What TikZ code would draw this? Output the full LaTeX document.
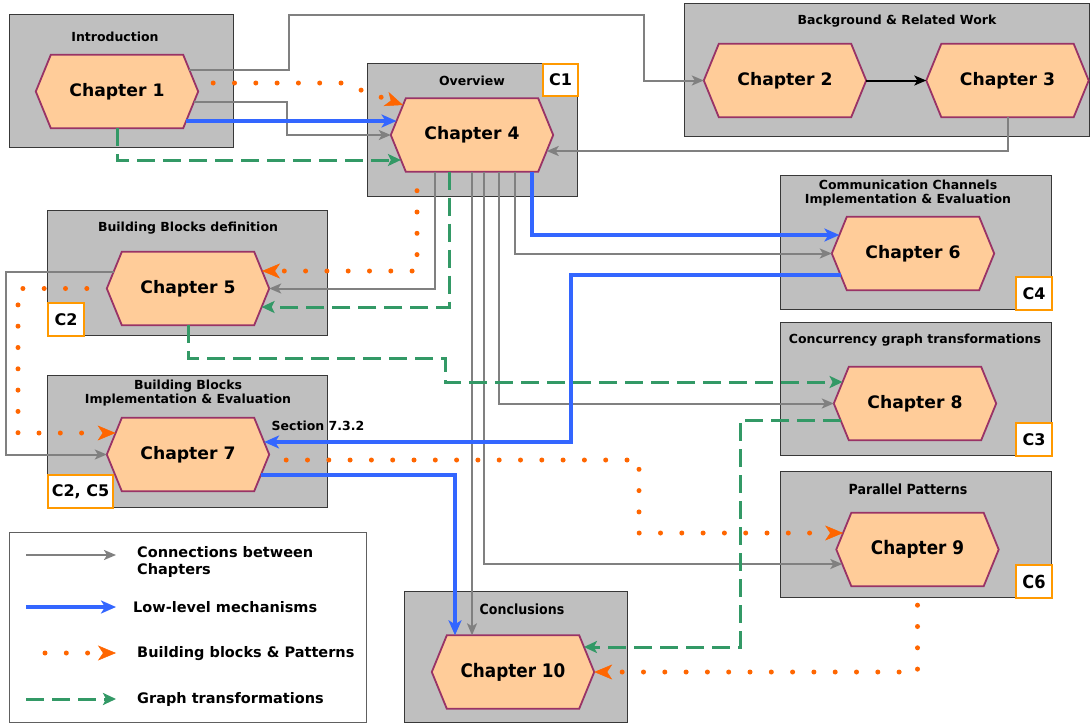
\documentclass[tikz,border=0pt]{standalone}
\usepackage{fontspec}
\setmainfont{DejaVu Sans}
\newfontfamily\narrowfont{DejaVu Sans Condensed}
\usetikzlibrary{arrows.meta,calc}

\definecolor{boxgray}{HTML}{BFBFBF}
\definecolor{boxedge}{HTML}{383838}
\definecolor{hexfill}{HTML}{FFCC99}
\definecolor{hexedge}{HTML}{993366}
\definecolor{linkgray}{HTML}{808080}
\definecolor{lowblue}{HTML}{3366FF}
\definecolor{patorange}{HTML}{FF6600}
\definecolor{graphgreen}{HTML}{339966}
\definecolor{contribedge}{HTML}{FF9900}

\tikzset{
  group/.style={draw=boxedge, fill=boxgray, line width=1.2pt, rectangle, inner sep=0pt, anchor=north west},
  legendbox/.style={draw=boxedge!80, fill=white, line width=1.2pt, rectangle, inner sep=0pt, anchor=north west},
  grouptitle/.style={font=\bfseries\fontsize{12.5}{14}\selectfont, align=center, inner sep=0pt},
  narrowtitle/.style={font=\narrowfont\bfseries\fontsize{14}{16}\selectfont, align=center, inner sep=0pt},
  chtext/.style={font=\bfseries\fontsize{17.2}{20}\selectfont, inner sep=0pt},
  narrowch/.style={font=\narrowfont\bfseries\fontsize{18.7}{20}\selectfont, inner sep=0pt},
  hexbox/.style={rectangle, minimum width=162pt, minimum height=73pt, inner sep=0pt},
  hexline/.style={draw=hexedge, fill=hexfill, line width=1.8pt, line join=miter},
  contrib/.style={draw=contribedge, fill=white, line width=2pt, rectangle, inner sep=0pt, anchor=north west,
    font=\bfseries\fontsize{16}{18}\selectfont},
  narrowcontrib/.style={contrib, font=\narrowfont\bfseries\fontsize{18}{20}\selectfont},
  legendtext/.style={font=\bfseries\fontsize{14.5}{17}\selectfont, align=left, anchor=west, inner sep=0pt},
  linkarrow/.style={draw=linkgray, line width=2pt, -{Stealth[length=12pt,width=10pt,inset=3pt]}},
  plainarrow/.style={draw=black, line width=2pt, -{Stealth[length=12pt,width=10pt,inset=3pt]}},
  lowarrow/.style={draw=lowblue, line width=3.6pt, -{Stealth[length=15pt,width=13pt,inset=4pt]}},
  patarrow/.style={draw=patorange, line width=5pt, line cap=round, dash pattern=on 0pt off 21.3pt,
    -{Stealth[length=18pt,width=15pt,inset=5pt,line width=0.5pt]}},
  grapharrow/.style={draw=graphgreen, line width=3pt, dash pattern=on 18pt off 8pt,
    -{Stealth[length=13pt,width=12pt,inset=3pt]}},
}

% hexagonal chapter node: name, centre, text style, text
\newcommand\chapterhex[4]{%
  \node[hexbox] (#1) at (#2) {};
  \draw[hexline] (#1.west) -- ([xshift=15pt]#1.north west) -- ([xshift=-15pt]#1.north east)
    -- (#1.east) -- ([xshift=-15pt]#1.south east) -- ([xshift=15pt]#1.south west) -- cycle;
  \node[#3] (#1-label) at (#1) {#4};
}

\begin{document}
\begin{tikzpicture}[x=1pt,y=-1pt]
\useasboundingbox (0,0) rectangle (1090,723);
\fill[white] (0,0) rectangle (1090,723);

% thesis parts
\node[group, minimum width=224pt, minimum height=133pt] (gintro) at (9,14) {};
\node[group, minimum width=210pt, minimum height=133pt] (gover) at (367,63) {};
\node[group, minimum width=405pt, minimum height=133pt] (gback) at (684,3) {};
\node[group, minimum width=280pt, minimum height=125pt] (gdef) at (47,210) {};
\node[group, minimum width=280pt, minimum height=132pt] (gimpl) at (47,375) {};
\node[group, minimum width=271pt, minimum height=134pt] (gcomm) at (780,175) {};
\node[group, minimum width=271pt, minimum height=133pt] (gconc) at (780,322) {};
\node[group, minimum width=271pt, minimum height=126pt] (gpar) at (780,471) {};
\node[group, minimum width=223pt, minimum height=131pt] (gconcl) at (404,591) {};

\node[grouptitle] (tintro) at (115,37) {Introduction};
\node[grouptitle] (tover) at (472,81) {Overview};
\node[grouptitle] (tback) at (897,21) {Background \& Related Work};
\node[grouptitle] (tdef) at (188,228) {Building Blocks definition};
\node[grouptitle] (timpl) at (188,393) {Building Blocks\\Implementation \& Evaluation};
\node[grouptitle] (tcomm) at (908,193) {Communication Channels\\Implementation \& Evaluation};
\node[grouptitle] (tconc) at (915,340) {Concurrency graph transformations};
\node[narrowtitle] (tpar) at (908,489) {Parallel Patterns};
\node[narrowtitle] (tconcl) at (522,609) {Conclusions};
\node[grouptitle] (tsec) at (318,426) {Section 7.3.2};

% contribution tags
\node[contrib, minimum width=35pt, minimum height=32pt] (k1) at (542,63) {C1};
\node[contrib, minimum width=36pt, minimum height=33pt] (k2) at (47,302) {C2};
\node[contrib, minimum width=65pt, minimum height=33pt] (k25) at (47,474) {C2, C5};
\node[contrib, minimum width=36pt, minimum height=33pt] (k4) at (1015,276) {C4};
\node[contrib, minimum width=36pt, minimum height=33pt] (k3) at (1015,422) {C3};
\node[narrowcontrib, minimum width=36pt, minimum height=33pt] (k6) at (1015,564) {C6};

% chapters
\chapterhex{c1}{117,91.5}{chtext}{Chapter 1}
\chapterhex{c2}{785,80.5}{chtext}{Chapter 2}
\chapterhex{c3}{1007.5,80.5}{chtext}{Chapter 3}
\chapterhex{c4}{472,135}{chtext}{Chapter 4}
\chapterhex{c5}{188,288.5}{chtext}{Chapter 5}
\chapterhex{c6}{913,253.5}{chtext}{Chapter 6}
\chapterhex{c7}{188,454.5}{chtext}{Chapter 7}
\chapterhex{c8}{915,403.5}{chtext}{Chapter 8}
\chapterhex{c9}{917.5,549.5}{narrowch}{Chapter 9}
\chapterhex{c10}{513,672}{narrowch}{Chapter 10}

% connections between chapters
\draw[linkarrow] ($(c1.east)+(-8.8,-21.5)$) -- (289,70) |- (644,15) |- (c2.west);
\draw[linkarrow] ($(c1.east)+(-4.3,10.5)$) -- (287,102) |- (c4.west);
\draw[plainarrow] (c2.east) -- (c3.west);
\draw[linkarrow] (c3.south) |- ($(c4.east)+(-6.5,16)$);
\draw[linkarrow] ($(c4.south)+(-37,0)$) |- (c5.east);
\draw[linkarrow] (c4.south) -- ($(c10.north)+(-41,0)$);
\draw[linkarrow] ($(c4.south)+(12,0)$) |- ($(c9.west)+(6,14.5)$);
\draw[linkarrow] ($(c4.south)+(27,0)$) |- (c8.west);
\draw[linkarrow] ($(c4.south)+(43,0)$) |- (c6.west);
\draw[linkarrow] ($(c5.west)+(6.8,-16.5)$) -- (6,272) |- (c7.west);

% low-level mechanisms
\draw[lowarrow] ($(c1.east)+(-12.1,29.5)$) -- ($(c4.west)+(5.7,-14)$);
\draw[lowarrow] ($(c4.south)+(60,0)$) |- ($(c6.west)+(7.6,-18.5)$);
\draw[lowarrow] ($(c6.west)+(8.8,21.5)$) -- (571,275) |- ($(c7.east)+(-5.1,-12.5)$);
\draw[lowarrow] ($(c7.east)+(-8.4,20.5)$) -| ($(c10.north)+(-58,0)$);

% building blocks & patterns
\draw[patarrow, dash phase=2.8pt] ($(c1.east)+(-3.5,-8.5)$) -- (341,83) -- ($(c4.west)+(12.2,-30)$);
\draw[patarrow, dash phase=2.3pt] ($(c4.south)+(-55,0)$) |- ($(c5.east)+(-7.2,-17.5)$);
\draw[patarrow, dash phase=1.3pt] (c5.west) -- (18,288.5) |- ($(c7.west)+(8.8,-21.5)$);
\draw[patarrow, dash phase=2pt] ($(c7.east)+(-2.3,5.5)$) -- (639,460) |- ($(c9.west)+(6.8,-16.5)$);
\draw[patarrow, dash phase=2.3pt] (c9.south) |- (c10.east);

% graph transformations
\draw[grapharrow] (c1.south) |- ($(c4.west)+(10.1,25)$);
\draw[grapharrow] ($(c4.south)+(-23,0)$) |- ($(c5.east)+(-7.6,18.5)$);
\draw[grapharrow] (c5.south) |- (445,358) |- ($(c8.west)+(8.8,-21.5)$);
\draw[grapharrow] ($(c8.west)+(6.8,16.5)$) -- (740,420) |- ($(c10.east)+(-10.3,-25)$);

% legend
\node[legendbox, minimum width=357pt, minimum height=190pt] (legend) at (9,532) {};
\coordinate (l1a) at (26,555);  \coordinate (l1b) at (116,555);
\coordinate (l2a) at (26,607);  \coordinate (l2b) at (116,607);
\coordinate (l3a) at (45,653);  \coordinate (l3b) at (116,653);
\coordinate (l4a) at (26,699);  \coordinate (l4b) at (116,699);
\draw[linkarrow] (l1a) -- (l1b);
\draw[lowarrow] (l2a) -- (l2b);
\draw[patarrow] (l3a) -- (l3b);
\draw[grapharrow] (l4a) -- (l4b);
\node[legendtext] (lt1) at (137,561.5) {Connections between\\Chapters};
\node[legendtext] (lt2) at (133,607) {Low-level mechanisms};
\node[legendtext] (lt3) at (137,654) {Building blocks \& Patterns};
\node[legendtext] (lt4) at (137,699) {Graph transformations};
\end{tikzpicture}
\end{document}
